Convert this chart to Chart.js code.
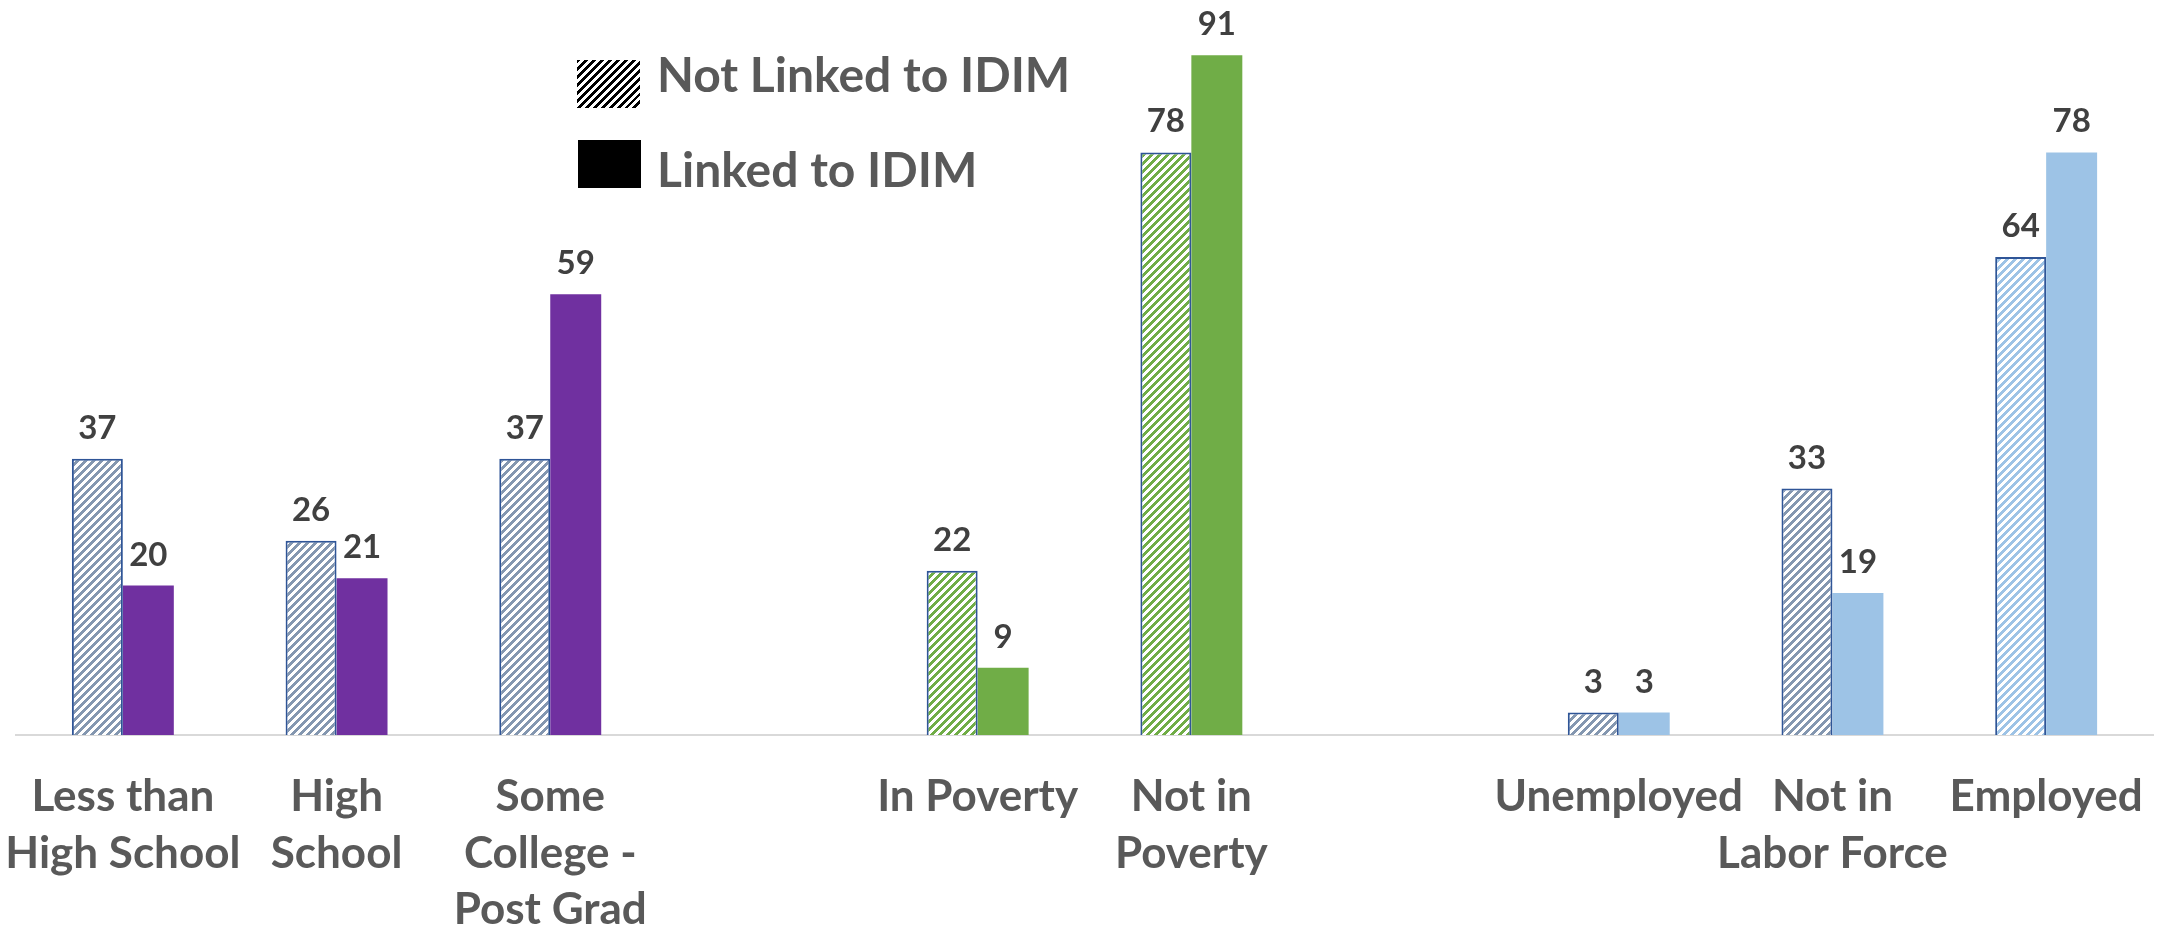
<!DOCTYPE html>
<html lang="en">

<head>
    <meta charset="UTF-8">
    <title>Linked to IDIM</title>
    <script src="https://cdn.jsdelivr.net/npm/chart.js"></script>
    <style>
        body {
            margin: 0;
            background: #fff;
            font-family: Lato, Arial, sans-serif;
        }

        #wrap {
            position: relative;
            width: 2172px;
            height: 929px;
        }

        .swatch {
            position: absolute;
            width: 63px;
            height: 48px;
        }

        .hatch {
            background: repeating-linear-gradient(135deg, #000 0 2.8px, #fff 2.8px 5.6px);
        }

        .solid {
            background: #000;
        }

        .leg-text {
            position: absolute;
            left: 657px;
            font-size: 48px;
            line-height: 48px;
            font-weight: bold;
            color: #595959;
            white-space: nowrap;
        }
    </style>
</head>

<body>
    <div id="wrap">
        <canvas id="idimChart" width="2172" height="929"></canvas>

        <div class="swatch hatch" style="left:577px; top:60px;"></div>
        <div class="leg-text" style="top:50px;">Not Linked to IDIM</div>
        <div class="swatch solid" style="left:578px; top:140px;"></div>
        <div class="leg-text" style="top:145px;">Linked to IDIM</div>
    </div>

    <script>
        // categories (empty strings are the gaps between groups)
        const categories = [
            ['Less than', 'High School'],
            ['High', 'School'],
            ['Some', 'College -', 'Post Grad'],
            '',
            ['In Poverty'],
            ['Not in', 'Poverty'],
            '',
            ['Unemployed'],
            ['Not in', 'Labor Force'],
            ['Employed']
        ];
        const notLinked = [37, 26, 37, null, 22, 78, null, 3, 33, 64];
        const linked = [20, 21, 59, null, 9, 91, null, 3, 19, 78];

        // colours per bar
        const hatchColors = ['#8497b0', '#8497b0', '#8497b0', null, '#70ad47', '#70ad47', null, '#8497b0', '#8497b0', '#9dc3e6'];
        const solidColors = ['#7030a0', '#7030a0', '#7030a0', null, '#70ad47', '#70ad47', null, '#9dc3e6', '#9dc3e6', '#9dc3e6'];

        // upward diagonal stripe pattern
        function makeHatch(color) {
            if (!color) return 'rgba(0,0,0,0)';
            const c = document.createElement('canvas');
            c.width = 8;
            c.height = 8;
            const g = c.getContext('2d');
            g.fillStyle = '#fff';
            g.fillRect(0, 0, 8, 8);
            g.fillStyle = color;
            for (let x = 0; x < 8; x++) {
                for (let y = 0; y < 8; y++) {
                    if ((x + y) % 8 < 4) g.fillRect(x, y, 1, 1);
                }
            }
            return g.createPattern(c, 'repeat');
        }

        const valueLabels = {
            id: 'valueLabels',
            afterDatasetsDraw(chart) {
                const ctx = chart.ctx;
                ctx.save();
                ctx.font = 'bold 33px Lato';
                ctx.fillStyle = '#404040';
                ctx.textAlign = 'center';
                ctx.textBaseline = 'alphabetic';
                chart.data.datasets.forEach((ds, i) => {
                    chart.getDatasetMeta(i).data.forEach((bar, j) => {
                        const v = ds.data[j];
                        if (v === null) return;
                        ctx.fillText(v, bar.x, bar.y - 20);
                    });
                });
                ctx.restore();
            }
        };

        const ctx = document.getElementById('idimChart').getContext('2d');
        const idimChart = new Chart(ctx, {
            type: 'bar',
            data: {
                labels: categories,
                datasets: [
                    {
                        label: 'Not Linked to IDIM',
                        data: notLinked,
                        backgroundColor: hatchColors.map(makeHatch),
                        borderColor: '#2f5597',
                        borderWidth: 2,
                        categoryPercentage: 0.477,
                        barPercentage: 1
                    },
                    {
                        label: 'Linked to IDIM',
                        data: linked,
                        backgroundColor: solidColors,
                        borderWidth: 0,
                        categoryPercentage: 0.477,
                        barPercentage: 1
                    }
                ]
            },
            options: {
                responsive: false,
                animation: false,
                layout: { padding: { left: 16, right: 19, top: 3, bottom: 0 } },
                plugins: {
                    legend: { display: false },
                    tooltip: { enabled: false }
                },
                scales: {
                    x: {
                        grid: { display: false, drawTicks: false },
                        border: { display: true, color: '#d9d9d9', width: 2 },
                        ticks: {
                            color: '#595959',
                            font: { family: 'Lato', size: 44, weight: 'bold', lineHeight: 1.28 },
                            padding: 34,
                            maxRotation: 0,
                            autoSkip: false
                        },
                        afterFit(scale) {
                            scale.height = 194;
                            scale.paddingLeft = 0;
                            scale.paddingRight = 0;
                        }
                    },
                    y: {
                        display: false,
                        min: 0,
                        max: 98
                    }
                }
            },
            plugins: [valueLabels]
        });
    </script>

</body>

</html>
